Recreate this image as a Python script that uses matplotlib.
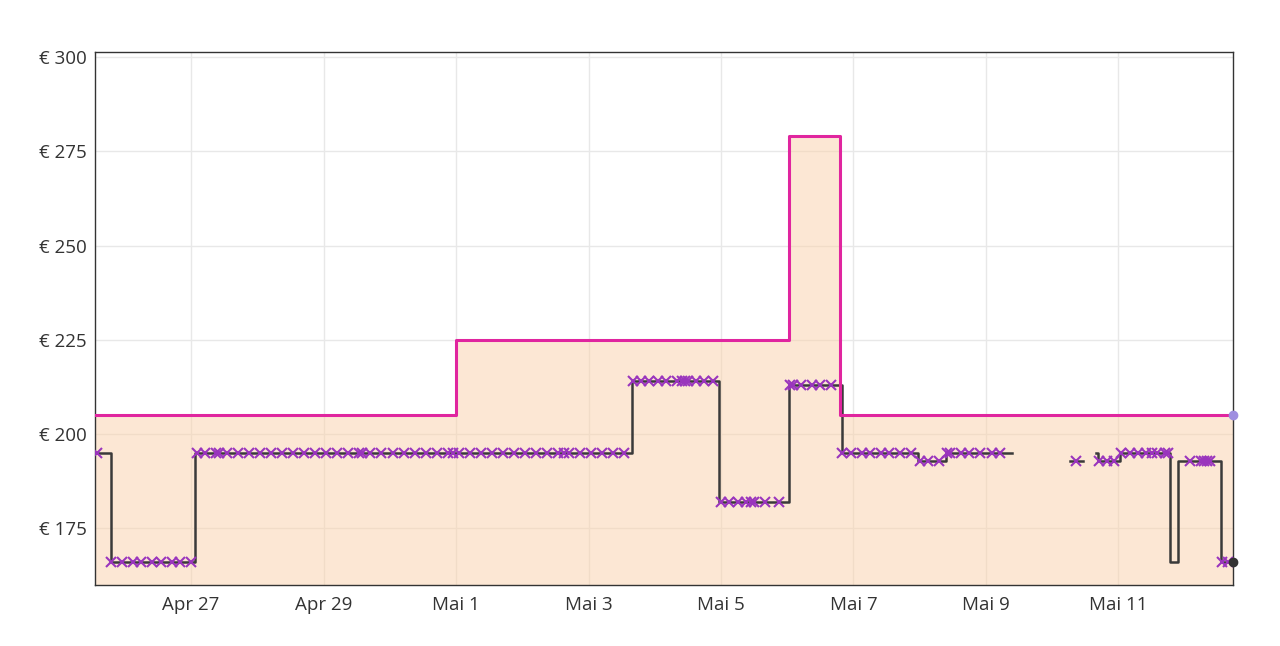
import matplotlib
matplotlib.use('Agg')
import matplotlib.pyplot as plt
import numpy as np

plt.rcParams['font.family'] = ['Open Sans', 'DejaVu Sans']

# x in hours since Apr 25 00:00
# list price (pink), post-step breakpoints
list_h = [13.2, 144.0, 264.7, 283.1, 425.5]
list_p = [205, 225, 279, 205, 205]

# actual price (black), post-step breakpoints, nan = no data
price_h = [13.2, 19.0, 49.4, 207.8, 239.3, 264.7, 283.9, 311.4, 321.5, 345.4, 345.4,
           366.5, 371.0, 371.0, 376.0, 376.6, 384.6, 402.7, 405.6, 421.2, 425.5]
price_p = [195, 166, 195, 214, 182, 213, 195, 193, 195, 195, np.nan,
           193, 193, np.nan, 195, 193, 195, 166, 193, 166, 166]

# single observations (x markers)
obs_h = [14,
         19, 23, 27, 30, 34, 37, 41, 44, 48,
         50, 53, 57, 58, 61, 65, 69, 73, 77, 81, 85, 89, 93, 97, 101, 105, 109, 110,
         113, 117, 121, 125, 129, 133, 137, 141, 143, 145, 149, 153, 157, 161, 165,
         169, 173, 177, 181, 183, 185, 189, 193, 197, 201, 205,
         208, 211, 214, 217, 220, 224, 226, 227, 228, 231, 234, 237,
         240, 243, 246, 249, 251, 252, 256, 261,
         265, 266, 269, 273, 276, 280,
         284, 287, 291, 294, 298, 301, 305, 309,
         312, 315, 319,
         322, 323, 327, 330, 334, 338, 341,
         368.5,
         377, 380, 382.5,
         385, 388, 391, 394, 396, 398, 401, 402,
         410, 414, 415, 416, 417,
         421.5, 423.5]
obs_p = [195] + [166] * 9 + [195] * 44 + [214] * 12 + [182] * 8 + [213] * 6 + \
        [195] * 8 + [193] * 3 + [195] * 7 + [193] + [193] * 3 + [195] * 8 + \
        [193] * 5 + [166] * 2

tick_h = [48, 96, 144, 192, 240, 288, 336, 384]
tick_labels = ['Apr 27', 'Apr 29', 'Mai 1', 'Mai 3', 'Mai 5', 'Mai 7', 'Mai 9', 'Mai 11']
ytick_v = [175, 200, 225, 250, 275, 300]

fig = plt.figure(figsize=(12.8, 6.46), dpi=100)
ax = fig.add_axes([0.0742, 0.0944, 0.8891, 0.8251])

ax.fill_between(list_h, list_p, 150, step='post', color='#fbd1aa', alpha=0.5, lw=0, zorder=2)
ax.plot(list_h, list_p, drawstyle='steps-post', color='#e0259f', lw=2.2, zorder=4)
ax.plot(price_h, price_p, drawstyle='steps-post', color='#3a3a3a', lw=1.8, zorder=3)
ax.plot(obs_h, obs_p, ls='none', marker='x', ms=6.5, mew=1.5, color='#9a35bd', zorder=5)
ax.plot(list_h[-1], list_p[-1], 'o', ms=6, color='#9f8ee0', zorder=6, clip_on=False)
ax.plot(price_h[-1], price_p[-1], 'o', ms=6, color='#333333', zorder=6, clip_on=False)

ax.set_xlim(list_h[0], list_h[-1])
ax.set_ylim(160, 301.3)
ax.set_xticks(tick_h)
ax.set_xticklabels(tick_labels)
ax.set_yticks(ytick_v)
ax.set_yticklabels(['€ %d' % v for v in ytick_v])
ax.tick_params(length=0, labelsize=13.5, colors='#333333')
ax.tick_params(axis='x', pad=8)
ax.tick_params(axis='y', pad=6)
ax.grid(True, color='#e8e8e8', lw=1, zorder=1)
ax.set_axisbelow(True)
for s in ax.spines.values():
    s.set_color('#333333')
    s.set_linewidth(1)

fig.savefig('out.png', dpi=100)
